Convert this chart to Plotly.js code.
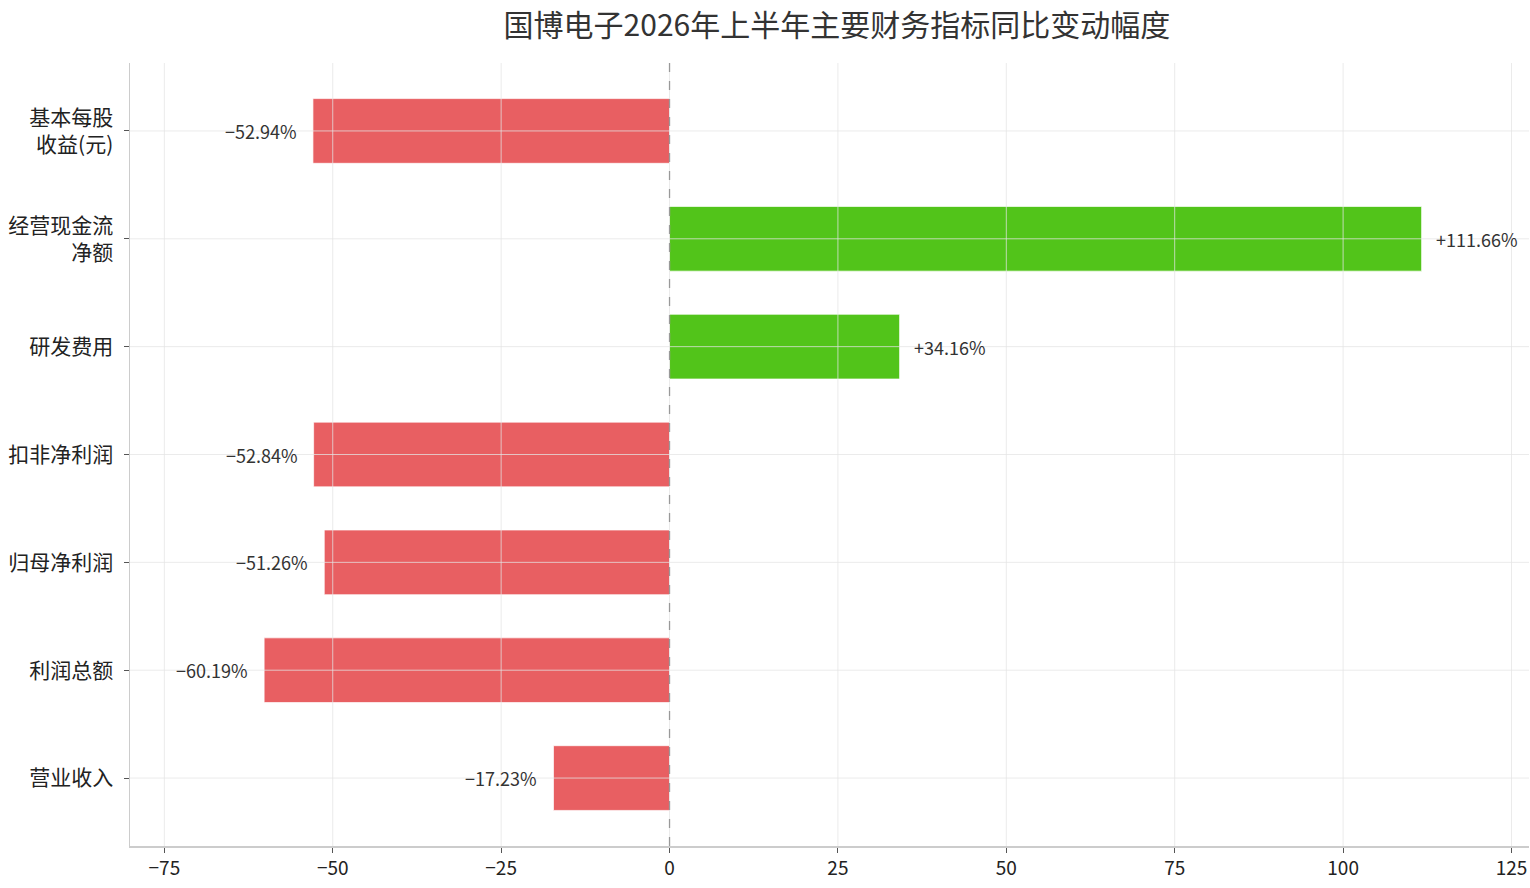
<!DOCTYPE html>
<html>
<head>
<meta charset="utf-8">
<script src="https://cdn.plot.ly/plotly-3.0.1.min.js"></script>
<style>
  html, body { margin: 0; padding: 0; background: #fff; }
  #chart { width: 1530px; height: 888px; }
</style>
</head>
<body>
<div id="chart"></div>
<script>
const categories = ['营业收入', '利润总额', '归母净利润', '扣非净利润', '研发费用', '经营现金流<br>净额', '基本每股<br>收益(元)'];
const changes = [-17.23, -60.19, -51.26, -52.84, 34.16, 111.66, -52.94];
const xTicks = [-75, -50, -25, 0, 25, 50, 75, 100, 125];

const font = '"Noto Sans CJK SC", "Noto Sans", sans-serif';
const gridColor = 'rgba(228,228,228,0.75)';

const colors = changes.map(v => v >= 0 ? '#52c41a' : '#e85f62');
const labels = changes.map(v => (v >= 0 ? '+' : '\u2212') + Math.abs(v).toFixed(2) + '%');

const trace = {
  type: 'bar',
  orientation: 'h',
  x: changes,
  y: categories,
  marker: { color: colors, line: { color: 'rgba(255,255,255,0.7)', width: 1 } },
  width: 0.6,
  hoverinfo: 'x+y'
};

// value labels beside each bar
const annotations = changes.map((v, i) => ({
  x: v,
  y: categories[i],
  xref: 'x', yref: 'y',
  text: labels[i],
  showarrow: false,
  xanchor: v >= 0 ? 'left' : 'right',
  xshift: v >= 0 ? 12 : -14,
  font: { family: font, size: 18, color: '#333' }
}));

// grid drawn over the bars, as in the original
const gridShapes = [
  ...xTicks.map(t => ({
    type: 'line', xref: 'x', yref: 'paper', x0: t, x1: t, y0: 0, y1: 1,
    layer: 'above', line: { color: gridColor, width: 1 }
  })),
  ...categories.map(c => ({
    type: 'line', xref: 'paper', yref: 'y', x0: 0, x1: 1, y0: c, y1: c,
    layer: 'above', line: { color: gridColor, width: 1 }
  }))
];

const layout = {
  width: 1530,
  height: 888,
  paper_bgcolor: '#fff',
  plot_bgcolor: '#fff',
  margin: { l: 130, r: 1, t: 63, b: 42 },
  title: {
    text: '国博电子2026年上半年主要财务指标同比变动幅度',
    font: { family: font, size: 30, color: '#333' },
    x: 0.547,
    xanchor: 'center',
    y: 0.971,
    yanchor: 'middle'
  },
  xaxis: {
    range: [-80.1, 127.6],
    tickvals: xTicks,
    ticktext: xTicks.map(v => v < 0 ? '\u2212' + Math.abs(v) : String(v)),
    ticks: 'outside',
    ticklen: 5,
    tickcolor: '#555',
    showgrid: false,
    zeroline: false,
    showline: true,
    linecolor: '#ccc',
    linewidth: 1.5,
    tickfont: { family: font, size: 19, color: '#222' }
  },
  yaxis: {
    range: [-0.63, 6.63],
    ticks: 'outside',
    ticklen: 5,
    tickcolor: '#555',
    showgrid: false,
    zeroline: false,
    showline: true,
    linecolor: '#ccc',
    linewidth: 1.5,
    ticklabelstandoff: 6,
    tickfont: { family: font, size: 21, color: '#222' }
  },
  shapes: [
    ...gridShapes,
    {
      type: 'line',
      xref: 'x', yref: 'paper',
      x0: 0, x1: 0, y0: 0, y1: 1,
      layer: 'above',
      line: { color: '#999', width: 1.3, dash: 'dash' }
    }
  ],
  annotations,
  showlegend: false
};

Plotly.newPlot('chart', [trace], layout, { displayModeBar: false, staticPlot: true });
</script>
</body>
</html>
